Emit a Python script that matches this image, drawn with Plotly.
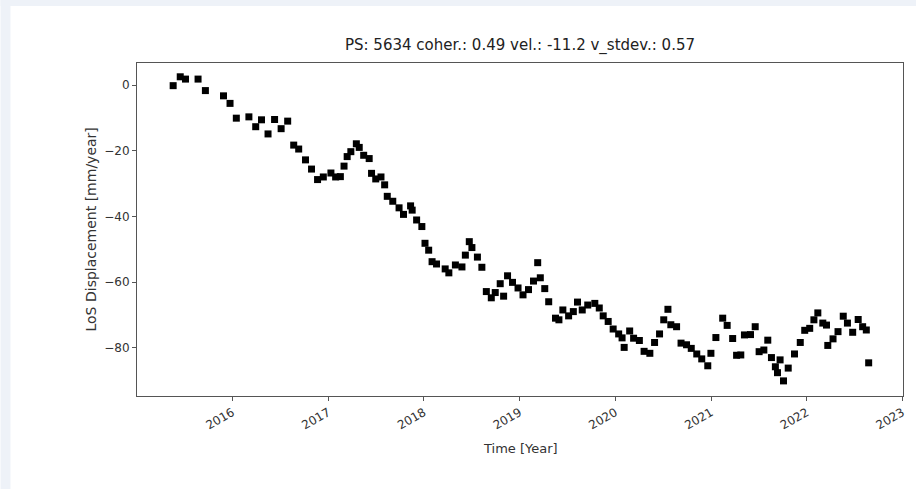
import plotly.graph_objects as go

# Acquisition dates and LoS displacement values (mm)
dates = [
    "2015-05-20", "2015-06-16", "2015-07-06", "2015-08-23", "2015-09-20", "2015-11-28", "2015-12-23",
    "2016-01-16", "2016-03-04", "2016-03-30", "2016-04-21", "2016-05-16", "2016-06-10", "2016-07-05",
    "2016-07-30", "2016-08-22", "2016-09-10", "2016-10-06", "2016-10-29", "2016-11-21", "2016-12-13",
    "2017-01-11", "2017-01-29", "2017-02-16", "2017-03-02", "2017-03-14", "2017-03-28", "2017-04-18",
    "2017-04-29", "2017-05-16", "2017-06-06", "2017-06-15", "2017-07-01", "2017-07-21", "2017-08-04",
    "2017-08-14", "2017-09-04", "2017-09-28", "2017-10-15", "2017-11-11", "2017-11-17", "2017-12-04",
    "2017-12-24", "2018-01-05", "2018-01-19", "2018-02-01", "2018-02-18", "2018-03-23", "2018-04-06",
    "2018-05-01", "2018-05-26", "2018-06-08", "2018-06-23", "2018-07-03", "2018-07-24", "2018-08-10",
    "2018-08-27", "2018-09-15", "2018-09-30", "2018-10-19", "2018-11-01", "2018-11-16", "2018-12-05",
    "2018-12-26", "2019-01-14", "2019-02-04", "2019-02-23", "2019-03-11", "2019-03-21", "2019-04-07",
    "2019-04-22", "2019-05-18", "2019-05-31", "2019-06-15", "2019-07-07", "2019-07-25", "2019-08-10",
    "2019-08-28", "2019-09-18", "2019-10-15", "2019-11-01", "2019-11-16", "2019-12-05", "2019-12-24",
    "2020-01-14", "2020-01-27", "2020-02-04", "2020-02-25", "2020-03-11", "2020-04-02", "2020-04-20",
    "2020-05-12", "2020-05-30", "2020-06-18", "2020-07-04", "2020-07-20", "2020-07-31", "2020-08-22",
    "2020-09-08", "2020-09-29", "2020-10-17", "2020-11-07", "2020-11-26", "2020-12-19", "2020-12-31",
    "2021-01-19", "2021-02-14", "2021-03-03", "2021-03-24", "2021-04-08", "2021-04-24", "2021-05-08",
    "2021-05-31", "2021-06-18", "2021-07-03", "2021-07-21", "2021-08-05", "2021-08-19", "2021-09-03",
    "2021-09-11", "2021-09-21", "2021-10-04", "2021-10-22", "2021-11-15", "2021-12-07", "2021-12-24",
    "2022-01-12", "2022-01-28", "2022-02-12", "2022-03-03", "2022-03-17", "2022-03-22", "2022-04-11",
    "2022-04-30", "2022-05-20", "2022-06-05", "2022-06-25", "2022-07-16", "2022-08-02", "2022-08-16",
    "2022-08-25",
]
displacement = [
    -0.2, 2.5, 1.8, 1.8, -1.7, -3.3, -5.6,
    -10.1, -9.7, -12.7, -10.6, -14.9, -10.5, -13.3,
    -11.0, -18.3, -19.5, -22.8, -25.6, -28.8, -28.0,
    -26.8, -28.0, -27.9, -24.7, -21.8, -20.3, -17.9,
    -19.0, -21.4, -22.4, -26.9, -28.6, -28.0, -30.4,
    -33.9, -35.4, -37.4, -39.4, -36.8, -38.1, -41.1,
    -43.1, -48.2, -50.3, -53.8, -54.5, -56.0, -57.2,
    -54.8, -55.4, -51.8, -47.7, -49.5, -52.4, -55.5,
    -62.9, -64.8, -63.2, -60.5, -64.3, -58.1, -60.1,
    -61.8, -63.9, -62.3, -59.7, -54.1, -58.7, -62.0,
    -66.0, -71.0, -71.5, -68.5, -70.3, -69.0, -66.1,
    -68.5, -67.0, -66.5, -67.9, -70.3, -72.0, -74.3,
    -75.8, -77.0, -79.9, -74.9, -77.1, -77.8, -81.1,
    -81.7, -78.4, -75.8, -71.5, -68.3, -73.0, -73.6,
    -78.6, -79.1, -80.2, -81.9, -83.4, -85.5, -81.7,
    -76.9, -71.0, -73.2, -77.2, -82.3, -82.2, -76.1,
    -76.0, -73.6, -81.2, -80.7, -77.7, -83.0, -85.8,
    -87.6, -83.7, -90.1, -86.2, -81.9, -78.4, -74.7,
    -74.1, -71.5, -69.4, -72.5, -73.1, -79.3, -77.3,
    -75.1, -70.4, -72.5, -75.3, -71.4, -73.6, -74.6,
    -84.6,
]

y_ticks = [0, -20, -40, -60, -80]
x_ticks = ["2016-01-01", "2017-01-01", "2018-01-01", "2019-01-01",
           "2020-01-01", "2021-01-01", "2022-01-01", "2023-01-01"]
x_tick_labels = ["2016", "2017", "2018", "2019", "2020", "2021", "2022", "2023"]

title_text = "PS: 5634 coher.: 0.49 vel.: -11.2 v_stdev.: 0.57"
x_title = "Time [Year]"
y_title = "LoS Displacement [mm/year]"

FONT = "DejaVu Sans"
AXIS_COLOR = "#555555"
TEXT_COLOR = "#333333"
PAGE_BG = "#eef2f8"

# plot area in window pixels: x 137..906, y 63..396 (body margin removed)
PW, PH = 769, 333
fig = go.Figure()
fig.add_trace(go.Scatter(
    x=dates, y=displacement, mode="markers",
    marker=dict(symbol="square", size=7, color="black", line=dict(width=0)),
    showlegend=False, hoverinfo="x+y",
))

fig.update_layout(
    width=919, height=489,
    margin=dict(l=137, r=13, t=63, b=93),
    paper_bgcolor="white",
    plot_bgcolor="white",
    font=dict(family=FONT, color=TEXT_COLOR, size=12),
    title=dict(text=title_text, x=0.5, xref="paper", y=1 - 45 / 489, yref="container",
               xanchor="center", yanchor="middle",
               font=dict(family=FONT, size=15, color="#222222")),
    shapes=[
        # page frame: left and top strips
        dict(type="rect", xref="paper", yref="paper", layer="below",
             x0=-137 / PW, x1=-127 / PW, y0=-93 / PH, y1=1 + 63 / PH,
             fillcolor=PAGE_BG, line=dict(width=0)),
        dict(type="rect", xref="paper", yref="paper", layer="below",
             x0=-137 / PW, x1=1 + 13 / PW, y0=1 + 57 / PH, y1=1 + 63 / PH,
             fillcolor=PAGE_BG, line=dict(width=0)),
    ],
    annotations=[
        dict(text=x_title, xref="paper", yref="paper", x=0.5, y=0, xanchor="center",
             yanchor="middle", yshift=-52, showarrow=False,
             font=dict(family=FONT, size=13, color=TEXT_COLOR)),
        dict(text=y_title, xref="paper", yref="paper", x=0, y=0.5, xanchor="center",
             yanchor="middle", xshift=-47, textangle=-90, showarrow=False,
             font=dict(family=FONT, size=14, color=TEXT_COLOR)),
    ],
)

fig.update_xaxes(
    type="date", range=["2015-01-02", "2023-01-03"],
    tickmode="array", tickvals=x_ticks, ticktext=x_tick_labels, tickangle=-30,
    ticks="outside", ticklen=4, tickcolor=AXIS_COLOR, tickfont=dict(size=12, color=TEXT_COLOR),
    showline=True, linecolor=AXIS_COLOR, linewidth=1, mirror=True,
    showgrid=False, zeroline=False,
)
fig.update_yaxes(
    range=[-94.7, 6.7],
    tickmode="array", tickvals=y_ticks,
    ticks="outside", ticklen=4, tickcolor=AXIS_COLOR, tickfont=dict(size=12, color=TEXT_COLOR),
    showline=True, linecolor=AXIS_COLOR, linewidth=1, mirror=True,
    showgrid=False, zeroline=False,
)

fig.write_html(
    "out.html",
    config={"displayModeBar": False},
    post_script="document.body.style.margin='0'; document.body.style.overflow='hidden';",
)
